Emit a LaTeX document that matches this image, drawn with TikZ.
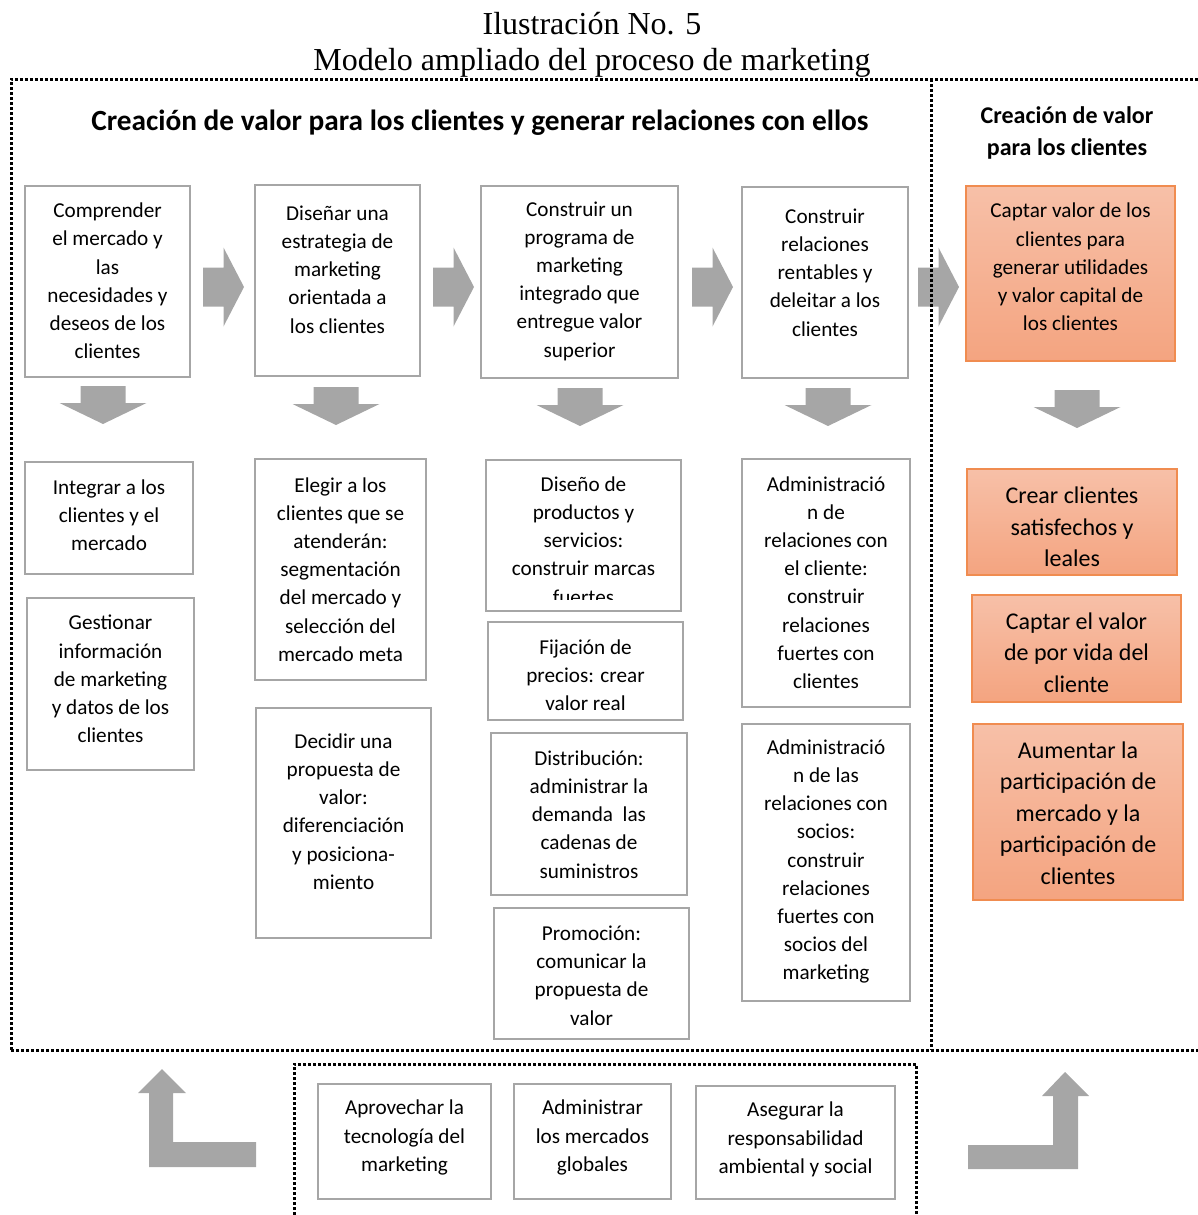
\documentclass[tikz,border=0pt]{standalone}
\usepackage{fontspec}
\setmainfont{Carlito}
\newfontfamily\titlefont{Liberation Serif}
\definecolor{boxgray}{RGB}{166,166,166}
\definecolor{arrgray}{RGB}{166,166,166}
\definecolor{orangeline}{RGB}{240,140,80}
\definecolor{orangetop}{RGB}{247,192,168}
\definecolor{orangebot}{RGB}{244,164,128}
\tikzset{
  graybox/.style={draw=boxgray, line width=2.2pt, fill=white, inner sep=0pt},
  orbox/.style={draw=orangeline, line width=1.3pt, top color=orangetop, bottom color=orangebot, inner sep=0pt},
  txt/.style={align=center, inner sep=0pt, font=\fontsize{21.2}{28.2}\selectfont},
  otxt/.style={align=center, inner sep=0pt, font=\fontsize{24}{31.6}\selectfont},
  dotline/.style={draw=black, line width=3pt, dash pattern=on 3pt off 2pt},
  blockarrow/.style={fill=arrgray, draw=none}
}
\newcommand{\grbox}[7]{%
  \node[graybox, minimum width={(#4-#2)*1pt}, minimum height={(#5-#3)*1pt}] (#1) at ({(#2+#4)/2},{(#3+#5)/2}) {};
  \node[txt] (#1t) at ({(#2+#4)/2},#6) {#7};}
\newcommand{\orbx}[7]{%
  \node[orbox, minimum width={(#4-#2)*1pt}, minimum height={(#5-#3)*1pt}] (#1) at ({(#2+#4)/2},{(#3+#5)/2}) {};
  \node[otxt] (#1t) at ({(#2+#4)/2},#6) {#7};}
\newcommand{\rarrow}[2]{%
  \fill[blockarrow] (#1,#2-19.5) -- (#1+20.5,#2-19.5) -- (#1+20.5,#2-39.5) -- (#1+41,#2) -- (#1+20.5,#2+39.5) -- (#1+20.5,#2+19.5) -- (#1,#2+19.5) -- cycle;}
\newcommand{\darrow}[2]{%
  \fill[blockarrow] (#1-22.5,#2) -- (#1+22.5,#2) -- (#1+22.5,#2+17) -- (#1+43.5,#2+17) -- (#1,#2+38) -- (#1-43.5,#2+17) -- (#1-22.5,#2+17) -- cycle;}
\begin{document}
\begin{tikzpicture}[x=1pt,y=-1pt]
\useasboundingbox (0,0) rectangle (1198,1215);
% titles
\node[font=\titlefont\fontsize{32}{32}\selectfont, inner sep=0pt] (title1) at (592,24) {Ilustración No. 5};
\node[font=\titlefont\fontsize{32}{32}\selectfont, inner sep=0pt] (title2) at (592,63) {Modelo ampliado del proceso de marketing};
% headings
\node[font=\bfseries\fontsize{29.3}{32}\selectfont, inner sep=0pt] (head1) at (480,123) {Creación de valor para los clientes y generar relaciones con ellos};
\node[font=\bfseries\fontsize{24}{32}\selectfont, align=center, inner sep=0pt] (head2) at (1067,133) {Creación de valor\\para los clientes};
% right arrows
\rarrow{203}{287}
\rarrow{433}{287}
\rarrow{692}{287}
\rarrow{918}{287}
% down arrows
\darrow{103}{386}
\darrow{336}{387}
\darrow{580}{388}
\darrow{828}{388}
\darrow{1077}{390}
% column 1
\grbox{a1}{25}{186}{190}{377}{281}{Comprender\\el mercado y\\las\\necesidades y\\deseos de los\\clientes}
\grbox{b1}{25}{462}{193}{574}{515}{Integrar a los\\clientes y el\\mercado}
\grbox{c1}{27}{598}{194}{770}{679}{Gestionar\\información\\de marketing\\y datos de los\\clientes}
% column 2
\grbox{a2}{255}{185}{420}{376}{269.5}{Diseñar una\\estrategia de\\marketing\\orientada a\\los clientes}
\grbox{b2}{255}{459}{426}{680}{569.5}{Elegir a los\\clientes que se\\atenderán:\\segmentación\\del mercado y\\selección del\\mercado meta}
\grbox{c2}{256}{708}{431}{938}{811.5}{Decidir una\\propuesta de\\valor:\\diferenciación\\y posiciona-\\miento}
% column 3
\grbox{a3}{481}{186}{678}{378}{281}{Construir un\\programa de\\marketing\\integrado que\\entregue valor\\superior}
\node[graybox, minimum width=195pt, minimum height=151pt] (b3) at (583.5,535.5) {};
\begin{scope}
\clip (486,461) rectangle (681,599.5);
\node[txt] (b3t) at (583.5,540.5) {Diseño de\\productos y\\servicios:\\construir marcas\\fuertes};
\end{scope}
\grbox{c3}{488}{622}{683}{720}{675.5}{Fijación de\\precios: crear\\valor real}
\grbox{d3}{491}{733}{687}{895}{814.5}{Distribución:\\administrar la\\demanda\ \ las\\cadenas de\\suministros}
\grbox{e3}{494}{908}{689}{1039}{975.5}{Promoción:\\comunicar la\\propuesta de\\valor}
% column 4
\grbox{a4}{742}{187}{908}{378}{272.5}{Construir\\relaciones\\rentables y\\deleitar a los\\clientes}
\grbox{b4}{742}{459}{910}{707}{582.5}{Administració\\n de\\relaciones con\\el cliente:\\construir\\relaciones\\fuertes con\\clientes}
\grbox{c4}{742}{724}{910}{1001}{861.5}{Administració\\n de las\\relaciones con\\socios:\\construir\\relaciones\\fuertes con\\socios del\\marketing}
% orange column
\node[orbox, minimum width=209pt, minimum height=175pt] (o1) at (1070.5,273.5) {};
\node[txt] (o1t) at (1070.5,267) {Captar valor de los\\clientes para\\generar utilidades\\y valor capital de\\los clientes};
\orbx{o2}{967}{469}{1177}{575}{527}{Crear clientes\\satisfechos y\\leales}
\orbx{o3}{972}{595}{1181}{702}{652.5}{Captar el valor\\de por vida del\\cliente}
\orbx{o4}{973}{724}{1183}{900}{813}{Aumentar la\\participación de\\mercado y la\\participación de\\clientes}
% dotted frames
\draw[dotline] (11,1050) -- (11,79) -- (1198,79);
\draw[dotline] (11,1050) -- (1198,1050);
\draw[dotline] (931,79) -- (931,1050);
\draw[dotline] (294,1215) -- (294,1064) -- (916,1064) -- (916,1215);
% bottom boxes
\grbox{f1}{318}{1084}{491}{1199}{1137.5}{Aprovechar la\\tecnología del\\marketing}
\grbox{f2}{514}{1084}{671}{1199}{1137.5}{Administrar\\los mercados\\globales}
\grbox{f3}{696}{1086}{895}{1199}{1139.5}{Asegurar la\\responsabilidad\\ambiental y social}
% L arrows
\fill[blockarrow] (149,1167) -- (256,1167) -- (256,1142) -- (173,1142) -- (173,1093) -- (186,1093) -- (162,1069) -- (138,1093) -- (149,1093) -- cycle;
\fill[blockarrow] (968,1169) -- (1078,1169) -- (1078,1096) -- (1089,1096) -- (1065,1072) -- (1042,1096) -- (1053,1096) -- (1053,1145) -- (968,1145) -- cycle;
\end{tikzpicture}
\end{document}
